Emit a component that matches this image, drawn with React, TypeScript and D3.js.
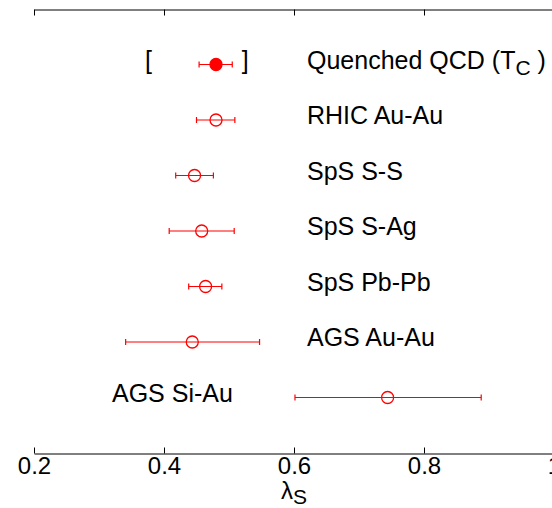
import React, { useRef, useEffect } from 'react';
import * as d3 from 'd3';

const systems = ['Quenched QCD', 'RHIC Au-Au', 'SpS S-S', 'SpS S-Ag', 'SpS Pb-Pb', 'AGS Au-Au', 'AGS Si-Au'];
const lambda = [0.48, 0.48, 0.447, 0.458, 0.464, 0.4435, 0.744];
const lower = [0.454, 0.45, 0.418, 0.408, 0.438, 0.341, 0.6015];
const upper = [0.505, 0.509, 0.476, 0.508, 0.489, 0.547, 0.888];
const filled = [true, false, false, false, false, false, false];
const bracket = [0.376, 0.525];
const xTicks = [0.2, 0.4, 0.6, 0.8, 1];

const W = 552;
const H = 508;

export default function App() {
    const svgRef = useRef(null);

    useEffect(() => {
        const svg = d3.select(svgRef.current);
        svg.selectAll('*').remove();

        const xScale = d3.scaleLinear().domain([0.2, 1]).range([34, 554]);
        const yScale = d3.scaleLinear().domain([0, 8]).range([9, 453]);
        const font = 'Liberation Sans, Arial, Helvetica, sans-serif';

        const xAxis = d3.axisBottom(xScale)
            .tickValues(xTicks)
            .tickFormat(d3.format('~g'))
            .tickSizeInner(-6)
            .tickSizeOuter(0)
            .tickPadding(3);
        const gx = svg.append('g')
            .attr('transform', 'translate(0,453.5)')
            .call(xAxis);
        gx.selectAll('text').style('font-size', '24px').style('font-family', font).attr('fill', '#000');

        const topAxis = d3.axisTop(xScale)
            .tickValues(xTicks)
            .tickFormat(() => '')
            .tickSizeInner(-6)
            .tickSizeOuter(0);
        svg.append('g')
            .attr('transform', 'translate(0,9.5)')
            .call(topAxis);

        svg.selectAll('.domain, .tick line').attr('stroke', '#000').attr('stroke-width', 1);

        // x label
        const xl = svg.append('text')
            .attr('x', xScale(0.6))
            .attr('y', 499)
            .attr('text-anchor', 'middle')
            .style('font-family', font)
            .style('font-size', '24px');
        xl.append('tspan').text('λ');
        xl.append('tspan').attr('dy', 5).style('font-size', '21px').text('S');

        const rows = systems.map((s, i) => ({ s, i, v: lambda[i], lo: lower[i], hi: upper[i], f: filled[i] }));
        const g = svg.append('g');

        g.selectAll('.bar')
            .data(rows)
            .join('line')
            .attr('x1', d => xScale(d.lo))
            .attr('x2', d => xScale(d.hi))
            .attr('y1', d => yScale(d.i + 1))
            .attr('y2', d => yScale(d.i + 1))
            .attr('stroke', 'red')
            .attr('stroke-width', 1.2);

        ['lo', 'hi'].forEach(k => {
            g.selectAll('.cap-' + k)
                .data(rows)
                .join('line')
                .attr('x1', d => xScale(d[k]))
                .attr('x2', d => xScale(d[k]))
                .attr('y1', d => yScale(d.i + 1) - 3)
                .attr('y2', d => yScale(d.i + 1) + 3)
                .attr('stroke', 'red')
                .attr('stroke-width', 1.2);
        });

        g.selectAll('.pt')
            .data(rows)
            .join('circle')
            .attr('cx', d => xScale(d.v))
            .attr('cy', d => yScale(d.i + 1))
            .attr('r', 6)
            .attr('fill', d => d.f ? 'red' : 'none')
            .attr('stroke', 'red')
            .attr('stroke-width', 1.3);

        // labels
        g.selectAll('.lab')
            .data(rows.filter(d => d.i > 0))
            .join('text')
            .attr('x', d => d.i === 6 ? xScale(0.32) : xScale(0.62))
            .attr('y', d => yScale(d.i + 1) + 4)
            .style('font-family', font)
            .style('font-size', '25px')
            .text(d => d.s);

        const q = g.append('text')
            .attr('x', xScale(0.62))
            .attr('y', yScale(1) + 4)
            .style('font-family', font)
            .style('font-size', '25px');
        q.append('tspan').text(systems[0] + ' (T');
        q.append('tspan').attr('dy', 6).style('font-size', '21px').text('C');
        q.append('tspan').attr('dy', -6).text(' )');

        g.selectAll('.br')
            .data(bracket)
            .join('text')
            .attr('x', d => xScale(d))
            .attr('y', yScale(1) + 4)
            .attr('text-anchor', 'middle')
            .style('font-family', font)
            .style('font-size', '25px')
            .text((d, i) => i === 0 ? '[' : ']');
    }, []);

    return (
        <svg ref={svgRef} width={W} height={H}
            style={{ position: 'absolute', left: 0, top: 0, background: '#fff' }}>
        </svg>
    );
}
